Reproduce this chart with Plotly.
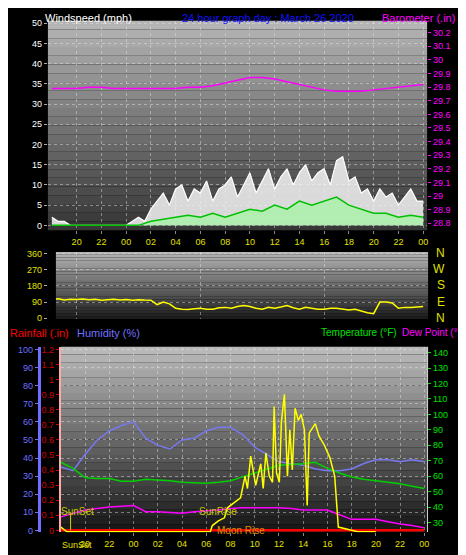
import plotly.graph_objects as go

# ---------------- data ----------------
half_hours = [18 + 0.5 * i for i in range(61)]
hours = list(range(18, 49))
gust_mph = [2, 1, 1, 0, 0, 0, 0, 0, 0, 0, 0, 0, 0, 1, 2, 1, 4, 6, 8, 5, 9, 10, 6, 9, 8, 11, 6, 9, 10, 12,
            7, 10, 13, 8, 11, 14, 9, 12, 14, 10, 13, 15, 11, 13, 14, 10, 16, 17, 11, 12, 8, 9, 6, 9, 7, 8,
            5, 7, 9, 6, 6]
avg_mph = [0, 0, 0, 0, 0, 0, 0, 0, 1, 1.5, 2, 2.5, 2, 3, 2, 3, 4, 3.5, 5, 4, 6, 5, 6, 7, 5, 4, 3, 3, 2, 2.5, 2]
baro_in = [29.79, 29.79, 29.79, 29.80, 29.80, 29.79, 29.79, 29.79, 29.79, 29.79, 29.79, 29.80, 29.80, 29.81,
           29.83, 29.85, 29.87, 29.87, 29.86, 29.84, 29.82, 29.80, 29.78, 29.77, 29.77, 29.77, 29.78, 29.79,
           29.80, 29.81, 29.82]
dir_deg = [105, 108, 102, 106, 104, 107, 103, 105, 100, 104, 106, 102, 104, 100, 103, 101, 100, 75, 90, 80,
           55, 50, 48, 52, 55, 50, 50, 58, 60, 55, 65, 70, 65, 55, 50, 60, 55, 62, 70, 58, 50, 60, 55, 50,
           50, 55, 55, 52, 45, 50, 40, 30, 25, 90, 90, 85, 55, 60, 60, 62, 65]
humidity = [35, 33, 42, 50, 55, 58, 60, 51, 47, 45, 50, 51, 55, 57, 57, 53, 46, 42, 38, 37, 36, 34, 33, 33,
            34, 37, 39, 39, 38, 39, 38]
temp_f = [69, 65, 59, 58.5, 58.5, 56.7, 56.7, 58, 57.5, 57, 56, 55.5, 55.4, 56, 57, 59.5, 62, 64.5, 67, 67.5,
          68, 69, 65, 62, 59.5, 58, 57, 56, 55, 53.5, 52]
dew_f = [33.6, 36, 38, 39, 40, 40.5, 41, 37, 37, 36.5, 36, 37, 37.5, 38, 39, 39.5, 39.5, 39.5, 39.5, 39, 38,
         38, 38, 35, 32, 32, 32, 30.5, 29, 28, 26.5]
rain_in = [0] * 31
solar_t = [18, 18.5, 19, 30.33, 30.5, 31.0, 31.5, 31.75, 32.33, 32.83, 33.2, 33.4, 33.67, 34.08, 34.5, 34.7,
           34.92, 35.2, 35.47, 35.6, 35.8, 36.03, 36.2, 36.45, 36.7, 36.9, 37.1, 37.33, 37.6, 37.83, 38.1,
           38.33, 38.5, 39.0, 39.3, 39.75, 40.2, 40.6, 40.9, 42.5, 44]
solar_v = [27, 24, 24, 24, 28, 31, 33, 39.5, 43, 46, 60, 52, 73, 54, 68, 52, 75, 60, 56, 105, 62, 56, 95, 113,
           60, 90, 64, 104, 96, 100, 90, 41, 88, 94, 86, 80, 72, 60, 27, 24, 24]

xt_vals = list(range(20, 49, 2))
xt_text = ["%02d" % (h % 24) for h in xt_vals]

# ---------------- figure ----------------
W, H = 466, 555
py = lambda y: 1 - y / H
px = lambda x: x / W
fig = go.Figure()

fig.add_trace(go.Scatter(x=half_hours, y=gust_mph, mode="lines", line=dict(color="white", width=1.2),
                         fill="tozeroy", fillcolor="rgba(245,245,245,0.85)", xaxis="x", yaxis="y"))
fig.add_trace(go.Scatter(x=hours, y=avg_mph, mode="lines", line=dict(color="#00c000", width=1.5),
                         fill="tozeroy", fillcolor="rgba(170,240,170,0.85)", xaxis="x", yaxis="y"))
fig.add_trace(go.Scatter(x=hours, y=baro_in, mode="lines", line=dict(color="#ff00ff", width=1.5),
                         xaxis="x", yaxis="y2"))
fig.add_trace(go.Scatter(x=half_hours, y=dir_deg, mode="lines", line=dict(color="#ffff00", width=1.5),
                         xaxis="x2", yaxis="y3"))
fig.add_trace(go.Scatter(x=hours, y=rain_in, mode="lines", line=dict(color="#ff0000", width=2.5),
                         xaxis="x3", yaxis="y5"))
fig.add_trace(go.Scatter(x=hours, y=humidity, mode="lines", line=dict(color="#7878f0", width=1.5),
                         xaxis="x3", yaxis="y4"))
fig.add_trace(go.Scatter(x=hours, y=temp_f, mode="lines", line=dict(color="#00d000", width=1.5),
                         xaxis="x3", yaxis="y6"))
fig.add_trace(go.Scatter(x=hours, y=dew_f, mode="lines", line=dict(color="#ff00ff", width=1.5),
                         xaxis="x3", yaxis="y6"))
fig.add_trace(go.Scatter(x=solar_t, y=solar_v, mode="lines", line=dict(color="#ffff00", width=1.5),
                         xaxis="x3", yaxis="y6"))

# gradient backgrounds
shapes = []
def gradient(xref, yref, top, bot, n=24):
    for i in range(n):
        f = i / (n - 1)
        c = int(top + (bot - top) * f)
        shapes.append(dict(type="rect", xref=xref + " domain", yref=yref + " domain",
                           x0=0, x1=1, y0=1 - (i + 1) / n, y1=1 - i / n, layer="below",
                           line=dict(width=0), fillcolor="rgb(%d,%d,%d)" % (c, c, c)))
gradient("x", "y", 180, 55)
gradient("x2", "y3", 180, 30)
gradient("x3", "y4", 185, 25)
shapes.append(dict(type="line", xref="x3", yref="y4", x0=18.8, x1=18.8, y0=0, y1=10,
                   line=dict(color="#d0d000", width=1)))
fig.update_layout(shapes=shapes)

tf = dict(family="Liberation Sans, Arial", size=9)
grid = dict(showgrid=True, gridcolor="rgba(230,230,230,0.45)", griddash="dot", gridwidth=1, zeroline=False)
ax = dict(tickvals=xt_vals, ticktext=xt_text, tickfont=dict(tf, color="#e0e000"), ticks="outside",
          ticklen=3, tickcolor="#888", **grid)
fig.update_layout(
    width=W, height=H, margin=dict(l=0, r=0, t=0, b=0), paper_bgcolor="black", plot_bgcolor="black",
    showlegend=False,
    xaxis=dict(domain=[px(40), px(420)], range=[17.68, 48.32], anchor="y", **ax),
    yaxis=dict(domain=[py(222), py(10)], range=[-1.2, 50.6], tickvals=list(range(0, 51, 5)),
               tickfont=dict(tf, color="white"), ticks="outside", ticklen=3, tickcolor="#aaa", **grid),
    yaxis2=dict(overlaying="y", side="right", range=[28.749, 30.287],
                tickvals=[round(28.8 + 0.1 * i, 1) for i in range(15)],
                tickfont=dict(tf, color="#ff00ff"), ticks="outside", ticklen=3, tickcolor="#ff00ff",
                showgrid=False, zeroline=False),
    xaxis2=dict(domain=[px(48), px(421)], range=[18.32, 48.4], anchor="y3", showticklabels=False,
                **grid),
    yaxis3=dict(domain=[py(312), py(244)], range=[-5.5, 371], tickvals=[0, 90, 180, 270, 360],
                tickfont=dict(tf, color="#e0e000"), ticks="outside", ticklen=3, tickcolor="#aaa", **grid),
    xaxis3=dict(domain=[px(53), px(421)], range=[18, 48.31], anchor="y4", **ax),
    yaxis4=dict(domain=[py(528), py(340)], range=[-1.1, 101.6], tickvals=list(range(0, 101, 10)),
                tickfont=dict(tf, color="#7070ff"), ticks="outside", ticklen=3, tickcolor="#7070ff",
                anchor="free", position=px(31), showline=True, linecolor="#7070ff", linewidth=3, **grid),
    yaxis5=dict(overlaying="y4", range=[-0.0132, 1.2192], tickvals=[round(0.1 * i, 1) for i in range(13)],
                tickfont=dict(tf, color="#d00000"), ticks="outside", ticklen=3, tickcolor="#d00000",
                anchor="free", position=px(52), showline=True, linecolor="#ffaaaa", linewidth=2,
                showgrid=False, zeroline=False),
    yaxis6=dict(overlaying="y4", side="right", range=[23.6, 143.8], tickvals=list(range(30, 141, 10)),
                tickfont=dict(tf, color="#00e000"), ticks="outside", ticklen=3, tickcolor="#00e000",
                showline=True, linecolor="#cccccc", showgrid=False, zeroline=False),
)

af = "Liberation Sans, Arial"
ann = [
    ("Windspeed (mph)", 35, 7, "white", 11),
    ("24 hour graph day : March 26 2020", 172, 7, "#1010ff", 11),
    ("Barometer (.in)", 373, 7, "#ff00ff", 11),
    ("Rainfall (.in)", 0, 326, "#ff0000", 11),
    ("Humidity (%)", 67, 326, "#7070ff", 11),
    ("Temperature (°F)", 312, 326, "#00e000", 10),
    ("Dew Point (°F)", 393, 326, "#ff00ff", 10),
    ("SunSet", 51, 507, "#c8c800", 10),
    ("SunRise", 189, 507, "#c8c800", 10),
    ("Moon Rise", 207, 526, "#e09000", 10),
    ("SunSet", 52, 541, "#e0e000", 9),
]
annotations = []
for t, x, y, c, s in ann:
    annotations.append(dict(text=t, x=px(x), y=py(y), xref="paper", yref="paper", xanchor="left",
                            yanchor="middle", showarrow=False, font=dict(family=af, size=s, color=c)))
for lab, y in zip(["N", "W", "S", "E", "N"], [245, 261, 278, 295, 311]):
    annotations.append(dict(text=lab, x=px(440), y=py(y), xref="paper", yref="paper", showarrow=False,
                            font=dict(family=af, size=12, color="#e0e000")))
fig.update_layout(annotations=annotations)

fig.write_html("out.html")
